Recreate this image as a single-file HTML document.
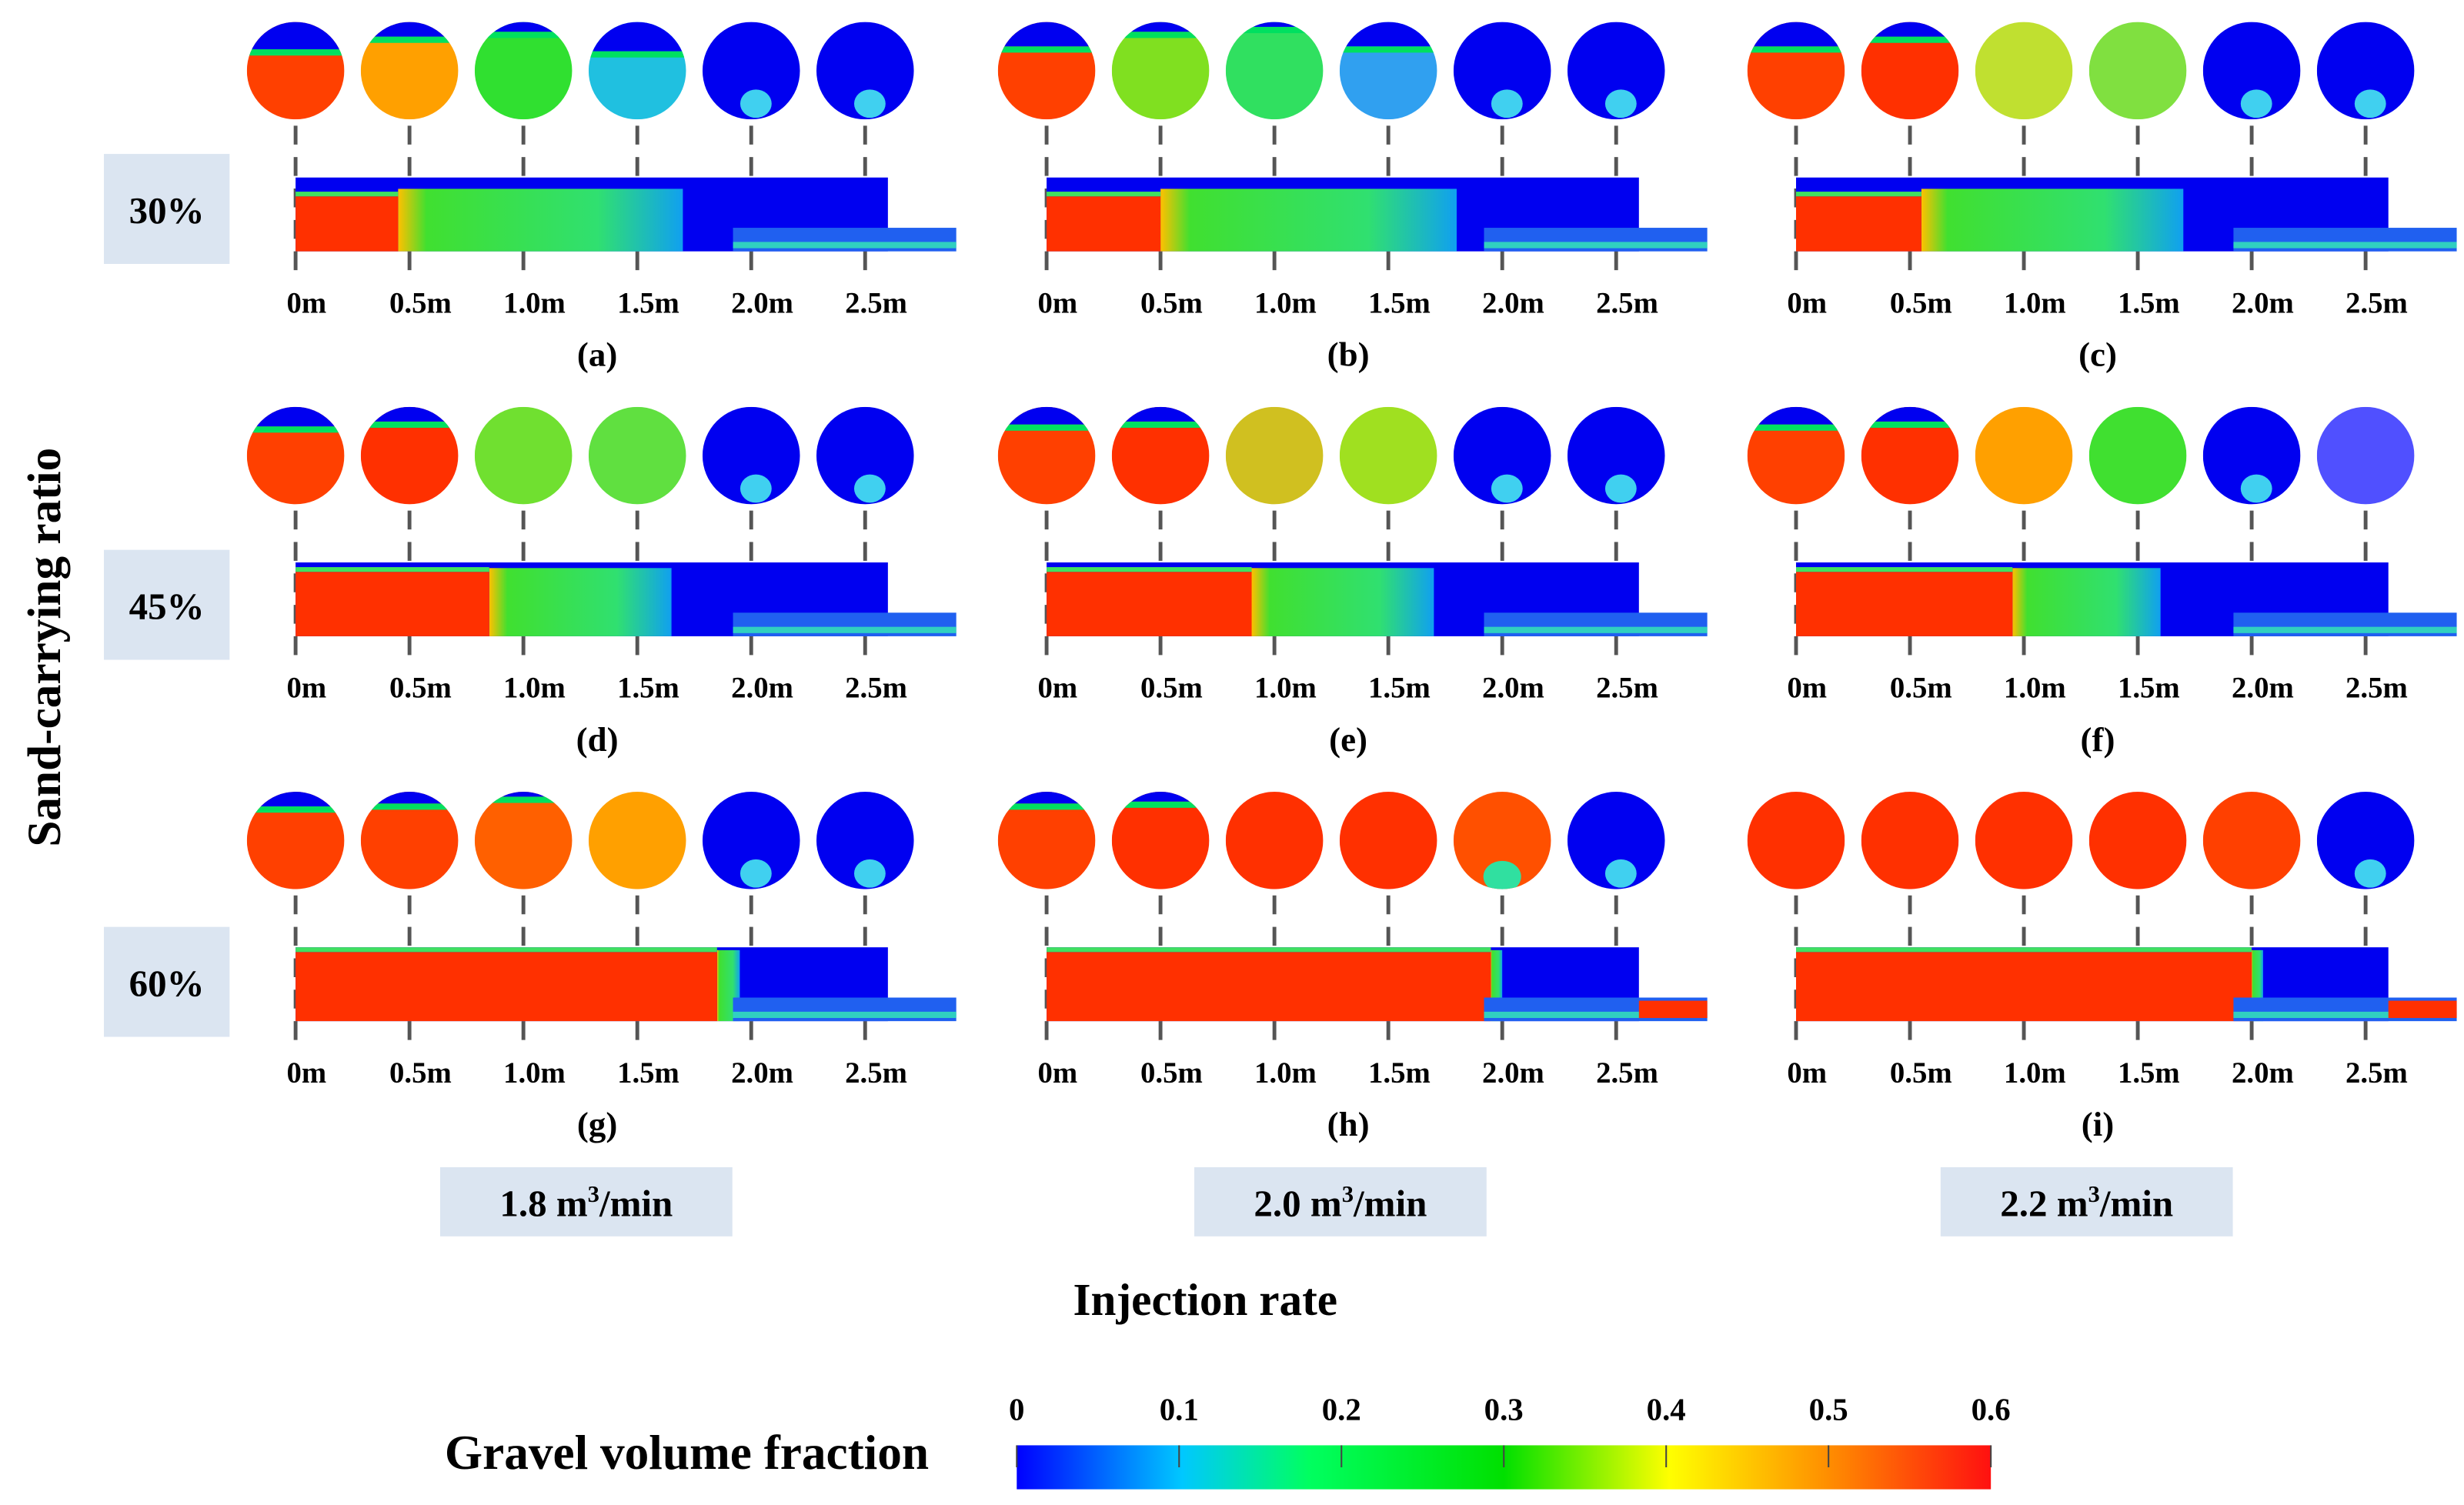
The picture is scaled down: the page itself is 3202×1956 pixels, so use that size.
<!DOCTYPE html>
<html><head><meta charset="utf-8">
<style>
html,body{margin:0;padding:0;background:#fff;}
svg{display:block;}
text{font-family:"Liberation Serif",serif;font-weight:bold;fill:#000;}
</style></head>
<body>
<svg id="fig" xmlns="http://www.w3.org/2000/svg" width="3202" height="1956" viewBox="0 0 1568 958">
<defs>
<linearGradient id="cbar" x1="0" x2="1" y1="0" y2="0">
<stop offset="0" stop-color="#0000ff"/><stop offset="0.17" stop-color="#00c8ff"/><stop offset="0.3" stop-color="#00ff60"/><stop offset="0.5" stop-color="#00e000"/><stop offset="0.67" stop-color="#ffff00"/><stop offset="0.83" stop-color="#ff9000"/><stop offset="1" stop-color="#ff1010"/>
</linearGradient>
</defs>
<g id="panels"></g>
<g id="labels"></g>
</svg>
<script>
const ticks=["0m","0.5m","1.0m","1.5m","2.0m","2.5m"];
const panelLetters=["(a)","(b)","(c)","(d)","(e)","(f)","(g)","(h)","(i)"];
const ratios=["30%","45%","60%"];
const rates=["1.8","2.0","2.2"];
const cbTicks=[0,0.1,0.2,0.3,0.4,0.5,0.6];
// red front end (m) and green zone end (m) for each panel
const redEnd=[0.45,0.5,0.55,0.85,0.9,0.95,1.85,1.95,2.0];
const greenEnd=[1.7,1.8,1.7,1.65,1.7,1.6,1.95,2.0,2.05];
// circle colors (main color) per panel, 6 each
const circColors=[
["#ff4000","#ffa000","#30e030","#20c0e0","#0000f0","#0000f0"],
["#ff4000","#80e020","#30e060","#30a0f0","#0000f0","#0000f0"],
["#ff4000","#ff3000","#c0e030","#80e040","#0000f0","#0000f0"],
["#ff4000","#ff3000","#70e030","#60e040","#0000f0","#0000f0"],
["#ff4000","#ff3000","#d0c020","#a0e020","#0000f0","#0000f0"],
["#ff4000","#ff3000","#ffa000","#40e030","#0000f0","#5050ff"],
["#ff4000","#ff4000","#ff6000","#ffa000","#0000f0","#0000f0"],
["#ff4000","#ff3000","#ff3000","#ff3000","#ff5000","#0000f0"],
["#ff3000","#ff3000","#ff3000","#ff3000","#ff4000","#0000f0"]];
// blue cap fraction for circles
const capFrac=[
[0.28,0.15,0.1,0.3,0,0],[0.25,0.1,0.05,0.25,0,0],[0.25,0.15,0,0,0,0],
[0.2,0.15,0,0,0,0],[0.18,0.15,0,0,0,0],[0.18,0.15,0,0,0,0],
[0.15,0.12,0.05,0,0,0],[0.12,0.1,0,0,0,0],[0,0,0,0,0,0]];
const NS="http://www.w3.org/2000/svg";
function el(tag,attrs,parent){const e=document.createElementNS(NS,tag);for(const k in attrs)e.setAttribute(k,attrs[k]);parent.appendChild(e);return e;}
const colX=[0,478,955], rowY=[0,245,490];
const mPx=145;
function xs(col,m){return 188+colX[col]+m*mPx;}
const P=document.getElementById('panels');
const defs=document.querySelector('defs');
for(let r=0;r<3;r++)for(let c=0;c<3;c++){
 const i=r*3+c, oy=rowY[r];
 const g=el('g',{},P);
 
 
 for(let k=0;k<6;k++){
  const cx=xs(c,k*0.5), cy=45+oy, R=31;
  const cid='cl'+i+'_'+k;
  const cp=el('clipPath',{id:cid},defs); el('circle',{cx:cx,cy:cy,r:R},cp);
  const cg=el('g',{'clip-path':'url(#'+cid+')'},g);
  
  
  el('rect',{x:cx-R,y:cy-R,width:2*R,height:2*R,fill:circColors[i][k]},cg);
  const cf=capFrac[i][k];
  if(cf>0){el('rect',{x:cx-R,y:cy-R+2*R*cf,width:2*R,height:4,fill:'#00e060'},cg);
   el('rect',{x:cx-R,y:cy-R,width:2*R,height:2*R*cf,fill:'#0000f0'},cg);}
  if(circColors[i][k]==='#0000f0'){el('ellipse',{cx:cx+3,cy:cy+R-10,rx:10,ry:9,fill:'#40d0f0'},cg);}
  if(circColors[i][k]==='#ff5000'){el('ellipse',{cx:cx,cy:cy+R-8,rx:12,ry:10,fill:'#30e0a0'},cg);}
  const dl=el('line',{x1:cx,x2:cx,y1:80+oy,y2:172+oy,stroke:'#555','stroke-width':2.4,'stroke-dasharray':'12 8'},g);
  
  
  const t=el('text',{x:cx+7,y:199+oy,'font-size':19,'text-anchor':'middle'},g); t.textContent=ticks[k];
  
  
 }
 const x0=xs(c,0), x1=xs(c,2.6), yT=113+oy, yB=160+oy;
 const band=[12,6,3][r];
 const pg=el('g',{},g);
 
 
 el('rect',{x:x0,y:yT,width:x1-x0,height:yB-yT,fill:'#0000f0'},pg);
 const gid='gz'+i;
 const lg=el('linearGradient',{id:gid,x1:0,x2:1,y1:0,y2:0},defs);
 el('stop',{offset:0,'stop-color':'#ffc000'},lg);
 el('stop',{offset:0.1,'stop-color':'#40e030'},lg);
 el('stop',{offset:0.7,'stop-color':'#30e070'},lg);
 el('stop',{offset:1,'stop-color':'#10a0f0'},lg);
 const rx=xs(c,redEnd[i]), gx=xs(c,greenEnd[i]);
 el('rect',{x:rx,y:yT+band*0.6,width:gx-rx,height:yB-yT-band*0.6,fill:'url(#'+gid+')'},pg);
 el('rect',{x:x0,y:yT+band,width:rx-x0,height:yB-yT-band,fill:'#ff3000'},pg);
 el('rect',{x:x0,y:yT+band-3,width:rx-x0,height:3,fill:'#40e060'},pg);
 const tx=xs(c,1.92), te=xs(c,2.9);
 el('rect',{x:tx,y:yB-15,width:te-tx,height:15,fill:'#2060f0'},pg);
 el('rect',{x:tx,y:yB-6,width:te-tx,height:4,fill:'#30d0c0'},pg);
 if(r===2&&c>0){el('rect',{x:xs(c,2.6),y:yB-13,width:te-xs(c,2.6),height:11,fill:'#ff3000'},pg);}
 const lt=el('text',{x:380+colX[c],y:233+oy,'font-size':22,'text-anchor':'middle'},g); lt.textContent=panelLetters[i];
 
 
}
const L=document.getElementById('labels');
for(let r=0;r<3;r++){
 const y=[98,350,590][r];
 const b=el('g',{},L);
 
 
 el('rect',{x:66,y:y,width:80,height:70,fill:'#dbe5f1'},b);
 const t=el('text',{x:106,y:y+44,'font-size':24,'text-anchor':'middle'},b); t.textContent=ratios[r];
}
for(let c=0;c<3;c++){
 const x=[280,760,1235][c];
 const b=el('g',{},L);
 
 
 el('rect',{x:x,y:743,width:186,height:44,fill:'#dbe5f1'},b);
 const t=el('text',{x:x+93,y:774,'font-size':24,'text-anchor':'middle'},b);
 t.innerHTML=rates[c]+' m<tspan font-size="15" dy="-9">3</tspan><tspan dy="9">/min</tspan>';
}
let t=el('text',{x:38,y:412,'font-size':30,'text-anchor':'middle',transform:'rotate(-90 38 412)'},L); t.textContent='Sand-carrying ratio';

t=el('text',{x:767,y:837,'font-size':29,'text-anchor':'middle'},L); t.textContent='Injection rate';

t=el('text',{x:437,y:935,'font-size':31,'text-anchor':'middle'},L); t.textContent='Gravel volume fraction';

const cb=el('rect',{x:647,y:920,width:620,height:28,fill:'url(#cbar)'},L);

const cx0=647,cw=620;
cbTicks.forEach(v=>{const x=cx0+v/0.6*cw;
 const ln=el('line',{x1:x,x2:x,y1:920,y2:934,stroke:'#444','stroke-width':1},L);
 
 const tt=el('text',{x:x,y:904,'font-size':20,'text-anchor':'middle'},L);tt.textContent=String(v);
 });
</script>
</body></html>
